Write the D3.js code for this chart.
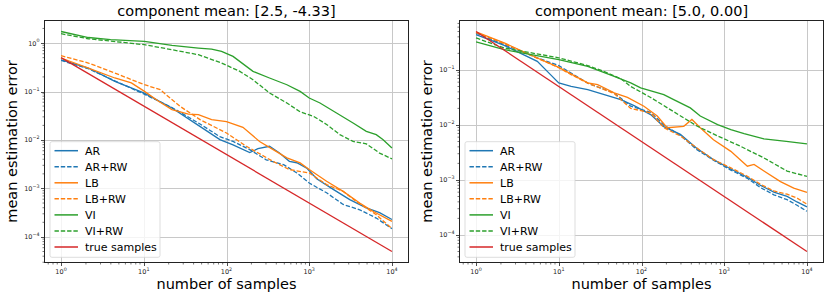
<!DOCTYPE html>
<html><head><meta charset="utf-8">
<script src="https://cdn.jsdelivr.net/npm/d3@7"></script>
<style>body{margin:0;background:#fff}svg{display:block}text{font-family:"DejaVu Sans",sans-serif}</style>
</head><body><svg id="c" width="831" height="298"></svg>
<script>
// ---------- data ----------
const seriesNames = ["AR", "AR+RW", "LB", "LB+RW", "VI", "VI+RW", "true samples"];
const seriesColors = ["#1f77b4", "#1f77b4", "#ff7f0e", "#ff7f0e", "#2ca02c", "#2ca02c", "#d62728"];
const seriesDashed = [false, true, false, true, false, true, false];
const panelTitles = ["component mean: [2.5, -4.33]", "component mean: [5.0, 0.00]"];
const xLabel = "number of samples";
const yLabel = "mean estimation error";

// left panel
const L_AR_n   = [1, 2.14, 4.47, 10, 21.9, 45.7, 83.2, 120, 191, 240, 331, 437, 575, 708, 933, 1230, 1950, 3090, 4900, 7080, 10000];
const L_AR_err = [0.447, 0.305, 0.162, 0.0933, 0.0457, 0.0200, 0.0102, 0.00794, 0.00550, 0.00661, 0.00741, 0.00537, 0.00363, 0.00339, 0.00263, 0.00158, 0.000955, 0.000589, 0.000398, 0.000316, 0.000229];
const L_ARRW_n   = [1, 2.14, 4.47, 10, 21.9, 45.7, 83.2, 120, 191, 302, 490, 708, 1000, 1622, 2570, 4074, 6457, 10000];
const L_ARRW_err = [0.437, 0.295, 0.166, 0.0891, 0.0468, 0.0224, 0.0117, 0.00933, 0.00631, 0.00389, 0.00309, 0.00209, 0.00129, 0.000813, 0.000468, 0.000363, 0.000245, 0.000148];
const L_LB_n   = [1, 2.14, 4.47, 7.08, 10.2, 15.1, 21.9, 34.7, 45.7, 66.1, 100, 158, 251, 398, 537, 776, 1000, 1622, 2570, 4074, 5888, 10000];
const L_LB_err = [0.491, 0.305, 0.190, 0.150, 0.1007, 0.0631, 0.0422, 0.0343, 0.0333, 0.0263, 0.0240, 0.0182, 0.00933, 0.00582, 0.00427, 0.00336, 0.00245, 0.00141, 0.000871, 0.000501, 0.000339, 0.000209];
const L_LBRW_n   = [1, 2.14, 4.47, 10.2, 15.8, 27.5, 47.9, 100, 174, 363, 575, 1000, 1622, 2570, 3715, 6457, 10000];
const L_LBRW_err = [0.547, 0.387, 0.240, 0.138, 0.109, 0.0493, 0.0263, 0.0139, 0.00741, 0.00363, 0.00245, 0.00209, 0.00120, 0.000871, 0.000537, 0.000288, 0.000148];
const L_VI_n   = [1, 2.14, 3.98, 10.2, 21.9, 45.7, 66.1, 87.1, 120, 209, 331, 537, 776, 1000, 1349, 2138, 3388, 4898, 6457, 7762, 10000];
const L_VI_err = [1.73, 1.30, 1.175, 1.08, 0.891, 0.789, 0.752, 0.671, 0.530, 0.260, 0.190, 0.138, 0.1007, 0.0735, 0.0579, 0.0361, 0.0224, 0.0151, 0.0129, 0.0102, 0.00684];
const L_VIRW_n   = [1, 2.14, 10.2, 21.9, 45.7, 87.1, 145, 209, 331, 537, 776, 1122, 1622, 2344, 3388, 4898, 7079, 10000];
const L_VIRW_err = [1.556, 1.227, 0.923, 0.728, 0.574, 0.387, 0.260, 0.175, 0.0933, 0.0579, 0.0380, 0.0309, 0.0209, 0.0129, 0.00933, 0.00832, 0.00537, 0.00407];
const L_TRUE_n   = [1, 10000];
const L_TRUE_err = [0.5, 0.00005];

// right panel
const R_AR_n   = [1, 2.19, 5.5, 7.94, 10, 14.1, 22.4, 35.5, 56.2, 81.3, 129, 186, 295, 468, 741, 1202, 1905, 2754, 3981, 5754, 7586, 10000];
const R_AR_err = [0.439, 0.280, 0.143, 0.0822, 0.0581, 0.0504, 0.0439, 0.0356, 0.0288, 0.0224, 0.0154, 0.00933, 0.00676, 0.00372, 0.00234, 0.00158, 0.00112, 0.000794, 0.000603, 0.000501, 0.000398, 0.000324];
const R_ARRW_n   = [1, 2.19, 5.5, 10, 22.4, 46.8, 74.1, 129, 186, 295, 468, 741, 1202, 1905, 2754, 3981, 5754, 7586, 10000];
const R_ARRW_err = [0.468, 0.288, 0.166, 0.120, 0.0575, 0.0380, 0.0219, 0.0170, 0.0100, 0.00646, 0.00355, 0.00229, 0.00151, 0.00107, 0.000724, 0.000537, 0.000437, 0.000347, 0.000269];
const R_LB_n   = [1, 2.19, 5.5, 10, 22.4, 29.5, 46.8, 67.6, 107, 155, 204, 324, 407, 513, 741, 1202, 1905, 2291, 3020, 4786, 6918, 10000];
const R_LB_err = [0.491, 0.310, 0.165, 0.111, 0.0581, 0.0541, 0.0382, 0.0316, 0.0219, 0.0145, 0.00891, 0.00944, 0.0126, 0.00891, 0.00537, 0.00331, 0.00178, 0.00191, 0.00145, 0.000933, 0.000708, 0.000596];
const R_LBRW_n   = [1, 2.19, 10, 14.1, 22.4, 46.8, 74.1, 129, 186, 295, 468, 741, 1202, 1905, 2754, 3981, 5754, 7586, 10000];
const R_LBRW_err = [0.479, 0.302, 0.110, 0.0822, 0.0575, 0.0372, 0.0200, 0.0166, 0.00891, 0.00631, 0.00380, 0.00234, 0.00166, 0.00117, 0.000832, 0.000631, 0.000550, 0.000468, 0.000363];
const R_VI_n   = [1, 2.19, 10, 22.4, 46.8, 74.1, 97.7, 186, 245, 389, 513, 832, 1202, 1738, 3020, 5623, 10000];
const R_VI_err = [0.323, 0.234, 0.154, 0.116, 0.0766, 0.0581, 0.0471, 0.0356, 0.0288, 0.0204, 0.0145, 0.0101, 0.00822, 0.00692, 0.00556, 0.00501, 0.00452];
const R_VIRW_n   = [1, 2.19, 10, 22.4, 35.5, 56.2, 74.1, 129, 245, 468, 832, 1585, 3020, 5754, 10000];
const R_VIRW_err = [0.382, 0.251, 0.166, 0.120, 0.0933, 0.0692, 0.0501, 0.0316, 0.0174, 0.00955, 0.00631, 0.00407, 0.00251, 0.00145, 0.00116];
const R_TRUE_n   = [1, 10000];
const R_TRUE_err = [0.5, 0.00005];

// ---------- build ----------
const panels = [
  { title: panelTitles[0], x0: 44.5, x1: 408.5,
    series: [[L_AR_n, L_AR_err], [L_ARRW_n, L_ARRW_err], [L_LB_n, L_LB_err], [L_LBRW_n, L_LBRW_err], [L_VI_n, L_VI_err], [L_VIRW_n, L_VIRW_err], [L_TRUE_n, L_TRUE_err]] },
  { title: panelTitles[1], x0: 459.5, x1: 823.5,
    series: [[R_AR_n, R_AR_err], [R_ARRW_n, R_ARRW_err], [R_LB_n, R_LB_err], [R_LBRW_n, R_LBRW_err], [R_VI_n, R_VI_err], [R_VIRW_n, R_VIRW_err], [R_TRUE_n, R_TRUE_err]] }
];
const yTop = 20.5, yBottom = 262.5;
const svg = d3.select("#c");

function logDomain(vals) {
  const lo = Math.log10(d3.min(vals)), hi = Math.log10(d3.max(vals));
  const m = (hi - lo) * 0.05;
  return [Math.pow(10, lo - m), Math.pow(10, hi + m)];
}
function powLabel(sel, e) {
  sel.append("tspan").text("10");
  sel.append("tspan").attr("dy", -3.2).attr("font-size", 4.8).text(String(e).replace("-", "\u2212"));
}

panels.forEach((p, pi) => {
  const allN = p.series.flatMap(s => s[0]);
  const allE = p.series.flatMap(s => s[1]);
  const x = d3.scaleLog().domain(logDomain(allN)).range([p.x0, p.x1]);
  const y = d3.scaleLog().domain(logDomain(allE)).range([yBottom, yTop]);
  const g = svg.append("g");
  const clipId = "clip" + pi;
  g.append("clipPath").attr("id", clipId).append("rect")
    .attr("x", p.x0).attr("y", yTop).attr("width", p.x1 - p.x0).attr("height", yBottom - yTop);

  const [xd0, xd1] = x.domain(), [yd0, yd1] = y.domain();
  const xMaj = [], xMin = [], yMaj = [], yMin = [];
  for (let d = Math.floor(Math.log10(xd0)); d <= Math.ceil(Math.log10(xd1)); d++) {
    for (let k = 1; k < 10; k++) {
      const v = k * Math.pow(10, d);
      if (v < xd0 || v > xd1) continue;
      (k === 1 ? xMaj : xMin).push({v, d});
    }
  }
  for (let d = Math.floor(Math.log10(yd0)); d <= Math.ceil(Math.log10(yd1)); d++) {
    for (let k = 1; k < 10; k++) {
      const v = k * Math.pow(10, d);
      if (v < yd0 || v > yd1) continue;
      (k === 1 ? yMaj : yMin).push({v, d});
    }
  }
  // grid
  g.selectAll(".gx").data(xMaj).enter().append("line")
    .attr("x1", d => Math.round(x(d.v)) + 0.5).attr("x2", d => Math.round(x(d.v)) + 0.5)
    .attr("y1", yTop).attr("y2", yBottom).attr("stroke", "#c8c8c8").attr("stroke-width", 1);
  g.selectAll(".gy").data(yMaj).enter().append("line")
    .attr("y1", d => Math.round(y(d.v)) + 0.5).attr("y2", d => Math.round(y(d.v)) + 0.5)
    .attr("x1", p.x0).attr("x2", p.x1).attr("stroke", "#c8c8c8").attr("stroke-width", 1);

  // lines
  const line = d3.line().x(d => x(d[0])).y(d => y(d[1]));
  p.series.forEach((s, i) => {
    const [ns, es] = s;
    const pts = ns.map((n, j) => [n, es[j]]);
    g.append("path").attr("d", line(pts)).attr("fill", "none")
      .attr("stroke", seriesColors[i]).attr("stroke-width", 1.3)
      .attr("stroke-dasharray", seriesDashed[i] ? "4.4,1.9" : null)
      .attr("clip-path", `url(#${clipId})`);
  });

  // spines
  g.append("rect").attr("x", p.x0).attr("y", yTop).attr("width", p.x1 - p.x0).attr("height", yBottom - yTop)
    .attr("fill", "none").attr("stroke", "#222").attr("stroke-width", 1);

  // ticks
  g.selectAll(".tx").data(xMaj).enter().append("line")
    .attr("x1", d => Math.round(x(d.v)) + 0.5).attr("x2", d => Math.round(x(d.v)) + 0.5)
    .attr("y1", yBottom).attr("y2", yBottom + 3.5).attr("stroke", "#222").attr("stroke-width", 0.8);
  g.selectAll(".txm").data(xMin).enter().append("line")
    .attr("x1", d => x(d.v)).attr("x2", d => x(d.v))
    .attr("y1", yBottom).attr("y2", yBottom + 2).attr("stroke", "#222").attr("stroke-width", 0.6);
  g.selectAll(".ty").data(yMaj).enter().append("line")
    .attr("y1", d => Math.round(y(d.v)) + 0.5).attr("y2", d => Math.round(y(d.v)) + 0.5)
    .attr("x1", p.x0 - 3.5).attr("x2", p.x0).attr("stroke", "#222").attr("stroke-width", 0.8);
  g.selectAll(".tym").data(yMin).enter().append("line")
    .attr("y1", d => y(d.v)).attr("y2", d => y(d.v))
    .attr("x1", p.x0 - 2).attr("x2", p.x0).attr("stroke", "#222").attr("stroke-width", 0.6);

  // tick labels
  xMaj.forEach(t => {
    const tx = g.append("text").attr("x", x(t.v)).attr("y", yBottom + 11.5)
      .attr("text-anchor", "middle").attr("font-size", 6.5).attr("fill", "#222");
    powLabel(tx, t.d);
  });
  yMaj.forEach(t => {
    const tx = g.append("text").attr("x", p.x0 - 5).attr("y", y(t.v) + 2.5)
      .attr("text-anchor", "end").attr("font-size", 6.5).attr("fill", "#222");
    powLabel(tx, t.d);
  });

  // title & labels
  const cx = (p.x0 + p.x1) / 2;
  g.append("text").attr("x", cx).attr("y", 16).attr("text-anchor", "middle")
    .attr("font-size", 14.5).attr("fill", "#000").text(p.title);
  g.append("text").attr("x", cx).attr("y", 289).attr("text-anchor", "middle")
    .attr("font-size", 14.5).attr("fill", "#000").text(xLabel);
  g.append("text").attr("transform", `translate(${p.x0 - 27.5},${(yTop + yBottom) / 2}) rotate(-90)`)
    .attr("text-anchor", "middle").attr("font-size", 14.5).attr("fill", "#000").text(yLabel);

  // legend
  const lx = p.x0 + 5.5, ly = 141.7, lw = 110, lh = 115.6;
  const lg = g.append("g");
  lg.append("rect").attr("x", lx).attr("y", ly).attr("width", lw).attr("height", lh).attr("rx", 2)
    .attr("fill", "#fff").attr("fill-opacity", 0.8).attr("stroke", "#d4d4d4").attr("stroke-width", 0.8);
  seriesNames.forEach((name, i) => {
    const ry = 150.7 + i * 16.05;
    lg.append("line").attr("x1", lx + 4.5).attr("x2", lx + 28).attr("y1", ry).attr("y2", ry)
      .attr("stroke", seriesColors[i]).attr("stroke-width", 1.5)
      .attr("stroke-dasharray", seriesDashed[i] ? "4.4,1.9" : null);
    lg.append("text").attr("x", lx + 35).attr("y", ry + 4).attr("font-size", 11).attr("fill", "#000").text(name);
  });
});
</script></body></html>
